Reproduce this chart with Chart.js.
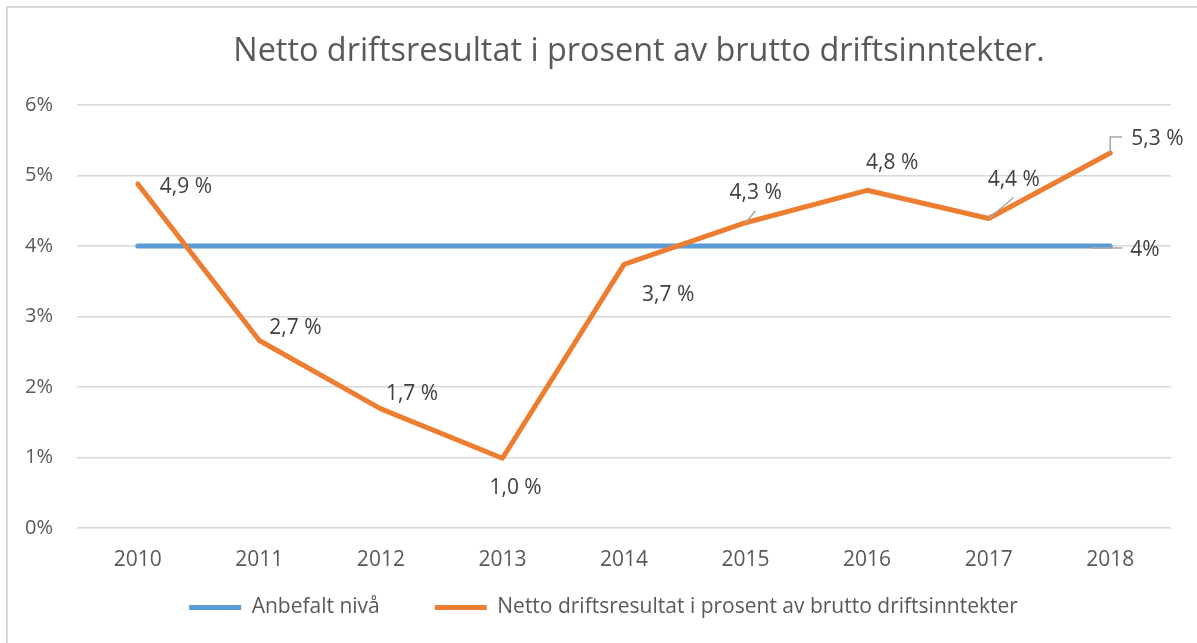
<!DOCTYPE html>
<html>
<head>
<meta charset="utf-8">
<script src="https://cdn.jsdelivr.net/npm/chart.js@4.4.0/dist/chart.umd.min.js"></script>
<style>
  html, body { margin: 0; padding: 0; background: #fff; }
  #wrap { position: relative; width: 1197px; height: 643px; overflow: hidden; }
  #frame { position: absolute; left: 6px; top: 6px; width: 1220px; height: 680px; border-left: 2px solid #d9d9d9; border-top: 2px solid #d9d9d9; }
  #chart { position: absolute; left: 0; top: 0; }
</style>
</head>
<body>
<div id="wrap">
  <div id="frame"></div>
  <canvas id="chart" width="1197" height="643"></canvas>
</div>
<script>
const years = ["2010", "2011", "2012", "2013", "2014", "2015", "2016", "2017", "2018"];
const anbefaltNiva = [4, 4, 4, 4, 4, 4, 4, 4, 4];
const nettoDrift = [4.88, 2.66, 1.69, 0.99, 3.74, 4.33, 4.79, 4.39, 5.32];
const yTicks = [0, 1, 2, 3, 4, 5, 6];
const chartTitle = "Netto driftsresultat i prosent av brutto driftsinntekter.";

const FONT = "'Open Sans', sans-serif";
const grey = "#595959";

// where each data label sits relative to its point (left edge of text, middle)
const orangeLabelOffsets = [[22, 3], [10, -12], [5, -15], [-13, 30], [18, 31], [-16, -30], [-1, -27], [-1, -38], [21, -14]];

const fmt = (v) => v.toFixed(1).replace(".", ",") + " %";

const labelPlugin = {
  id: "pointLabels",
  afterLayout(chart) {
    // legend sits a bit higher and further right than the layout puts it
    const lg = chart.legend;
    lg.top = 542;
    lg.bottom = chart.height;
    lg.left += 6;
    lg.right += 6;
  },
  afterDatasetsDraw(chart) {
    const ctx = chart.ctx;
    const pts = chart.getDatasetMeta(1).data;
    const b8 = chart.getDatasetMeta(0).data[8];
    ctx.save();
    // leader lines
    ctx.strokeStyle = "#a6a6a6";
    ctx.lineWidth = 1.5;
    ctx.beginPath(); ctx.moveTo(pts[5].x, pts[5].y); ctx.lineTo(pts[5].x + 10, pts[5].y - 12); ctx.stroke();
    ctx.beginPath(); ctx.moveTo(pts[7].x, pts[7].y); ctx.lineTo(pts[7].x + 25, pts[7].y - 21); ctx.stroke();
    ctx.beginPath(); ctx.moveTo(pts[8].x, pts[8].y); ctx.lineTo(pts[8].x, pts[8].y - 16); ctx.lineTo(pts[8].x + 12, pts[8].y - 16); ctx.stroke();
    ctx.beginPath(); ctx.moveTo(b8.x - 20, b8.y + 2); ctx.lineTo(b8.x + 12, b8.y + 2); ctx.stroke();

    ctx.font = "21px " + FONT;
    ctx.fillStyle = "#404040";
    ctx.textBaseline = "middle";
    ctx.textAlign = "left";
    pts.forEach((p, i) => {
      const [dx, dy] = orangeLabelOffsets[i];
      ctx.fillText(fmt(nettoDrift[i]), p.x + dx, p.y + dy);
    });
    ctx.fillText(anbefaltNiva[8] + "%", b8.x + 20, b8.y + 4);
    ctx.restore();
  },
  afterDraw(chart) {
    const ctx = chart.ctx;
    ctx.save();
    ctx.font = "32.4px " + FONT;
    ctx.fillStyle = grey;
    ctx.textAlign = "center";
    ctx.textBaseline = "middle";
    ctx.fillText(chartTitle, 639, 52);
    ctx.restore();
  }
};

new Chart(document.getElementById("chart").getContext("2d"), {
  type: "line",
  data: {
    labels: years,
    datasets: [
      {
        label: "Anbefalt nivå",
        data: anbefaltNiva,
        borderColor: "#5B9BD5",
        backgroundColor: "#5B9BD5",
        borderWidth: 5,
        borderCapStyle: "round",
        pointRadius: 0,
        order: 1,
      },
      {
        label: "Netto driftsresultat i prosent av brutto driftsinntekter",
        data: nettoDrift,
        borderColor: "#ED7D31",
        backgroundColor: "#ED7D31",
        borderWidth: 5,
        borderCapStyle: "round",
        borderJoinStyle: "round",
        pointRadius: 0,
        order: 0,
      },
    ],
  },
  options: {
    responsive: false,
    animation: false,
    layout: { padding: { left: 24, right: 26, top: 105, bottom: 0 } },
    plugins: {
      title: { display: false },
      legend: {
        position: "bottom",
        maxHeight: 72,
        labels: {
          color: grey,
          font: { family: FONT, size: 21 },
          boxWidth: 52,
          boxHeight: 5,
          useBorderRadius: true,
          borderRadius: 2.5,
          padding: 55,
          sort: (a, b) => a.datasetIndex - b.datasetIndex,
          generateLabels: (chart) => chart.data.datasets.map((ds, i) => ({
            text: ds.label,
            fillStyle: ds.borderColor,
            strokeStyle: ds.borderColor,
            lineWidth: 0,
            fontColor: grey,
            datasetIndex: i,
          })),
        },
      },
      tooltip: { enabled: false },
    },
    scales: {
      x: {
        offset: true,
        grid: { display: false },
        border: { display: false },
        ticks: { color: grey, font: { family: FONT, size: 21 }, padding: 11 },
        afterFit: (axis) => { axis.height = 43; },
      },
      y: {
        min: 0,
        max: 6,
        afterBuildTicks: (axis) => { axis.ticks = yTicks.map(v => ({ value: v })); },
        afterFit: (axis) => { axis.width = 53; },
        grid: { color: "#d9d9d9", lineWidth: 1.5, drawTicks: false },
        border: { display: false },
        ticks: { color: grey, font: { family: FONT, size: 20 }, padding: 24, callback: (v) => v + "%" },
      },
    },
  },
  plugins: [labelPlugin],
});
</script>
</body>
</html>
